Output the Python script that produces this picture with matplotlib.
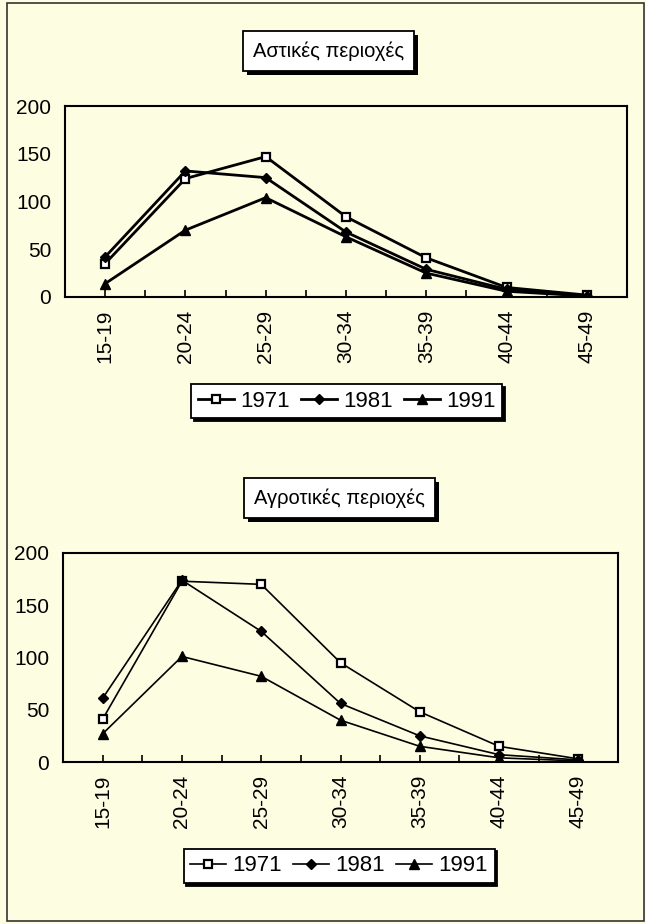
import matplotlib
matplotlib.use("Agg")
import matplotlib.pyplot as plt
import matplotlib.patheffects as pe
from matplotlib.patches import Rectangle

plt.rcParams['font.family'] = ['Liberation Sans', 'DejaVu Sans']

categories = ["15-19", "20-24", "25-29", "30-34", "35-39", "40-44", "45-49"]
years = ["1971", "1981", "1991"]

urban_1971 = [35, 124, 147, 84, 41, 10, 2]
urban_1981 = [42, 132, 125, 68, 29, 8, 1]
urban_1991 = [14, 70, 104, 63, 25, 6, 1]

rural_1971 = [41, 173, 170, 95, 48, 15, 3]
rural_1981 = [61, 174, 125, 56, 25, 7, 2]
rural_1991 = [27, 101, 82, 40, 15, 4, 1]

titles = ["Αστικές περιοχές", "Αγροτικές περιοχές"]

BG = "#fdfde2"
fig = plt.figure(figsize=(6.46, 9.24), dpi=100, facecolor=BG)

# figure border
fig.patches.append(Rectangle((7/646, 3/924), 637/646, 918/924, transform=fig.transFigure,
                             fill=False, ec="#333333", lw=1.2))

panels = [
    dict(rect=[65/646, 1-297/924, 562/646, 191/924], data=[urban_1971, urban_1981, urban_1991],
         lw=2.0, title_xy=(0.508, 0.945), leg_xy=(0.537, 0.566), title=titles[0]),
    dict(rect=[63/646, 1-762/924, 555/646, 209/924], data=[rural_1971, rural_1981, rural_1991],
         lw=1.2, title_xy=(0.526, 0.461), leg_xy=(0.525, 0.063), title=titles[1]),
]

markers = [dict(marker='s', mfc='white', mec='black', ms=6, mew=1.6),
           dict(marker='D', mfc='black', mec='black', ms=5.5),
           dict(marker='^', mfc='black', mec='black', ms=7)]

x = list(range(len(categories)))
for p in panels:
    ax = fig.add_axes(p['rect'])
    ax.set_facecolor(BG)
    lines = []
    for vals, mk, yr in zip(p['data'], markers, years):
        ln, = ax.plot(x, vals, color='black', lw=p['lw'], label=yr, **mk)
        lines.append(ln)
    ax.set_xlim(-0.5, len(categories) - 0.5)
    ax.set_ylim(0, 200)
    ax.set_yticks([0, 50, 100, 150, 200])
    ax.tick_params(axis='y', length=0, labelsize=15, pad=10)
    ax.set_xticks(x)
    ax.set_xticklabels(categories, rotation=90, fontsize=15)
    ax.set_xticks([i + 0.5 for i in range(-1, len(categories))], minor=True)
    ax.tick_params(axis='x', which='both', direction='in', length=5, width=1.2, pad=9)
    for s in ax.spines.values():
        s.set_linewidth(1.5)
    # title box
    t = fig.text(p['title_xy'][0], p['title_xy'][1], p['title'], ha='center', va='center',
                 fontsize=14.5,
                 bbox=dict(boxstyle='square,pad=0.5', fc='white', ec='black', lw=1.3))
    t.get_bbox_patch().set_path_effects([pe.SimplePatchShadow(offset=(3, -3), shadow_rgbFace='black', alpha=1.0),
                                         pe.Normal()])
    leg = fig.legend(handles=lines, loc='center', bbox_to_anchor=p['leg_xy'], ncol=3,
                     fontsize=16, frameon=True, fancybox=False, shadow={'color': 'black', 'alpha': 1.0},
                     edgecolor='black', handlelength=1.6, handletextpad=0.3, columnspacing=0.5,
                     borderpad=0.3, framealpha=1)
    leg.get_frame().set_facecolor('white')
    leg.get_frame().set_linewidth(1.3)

fig.savefig("out.png", dpi=100, facecolor=BG)
